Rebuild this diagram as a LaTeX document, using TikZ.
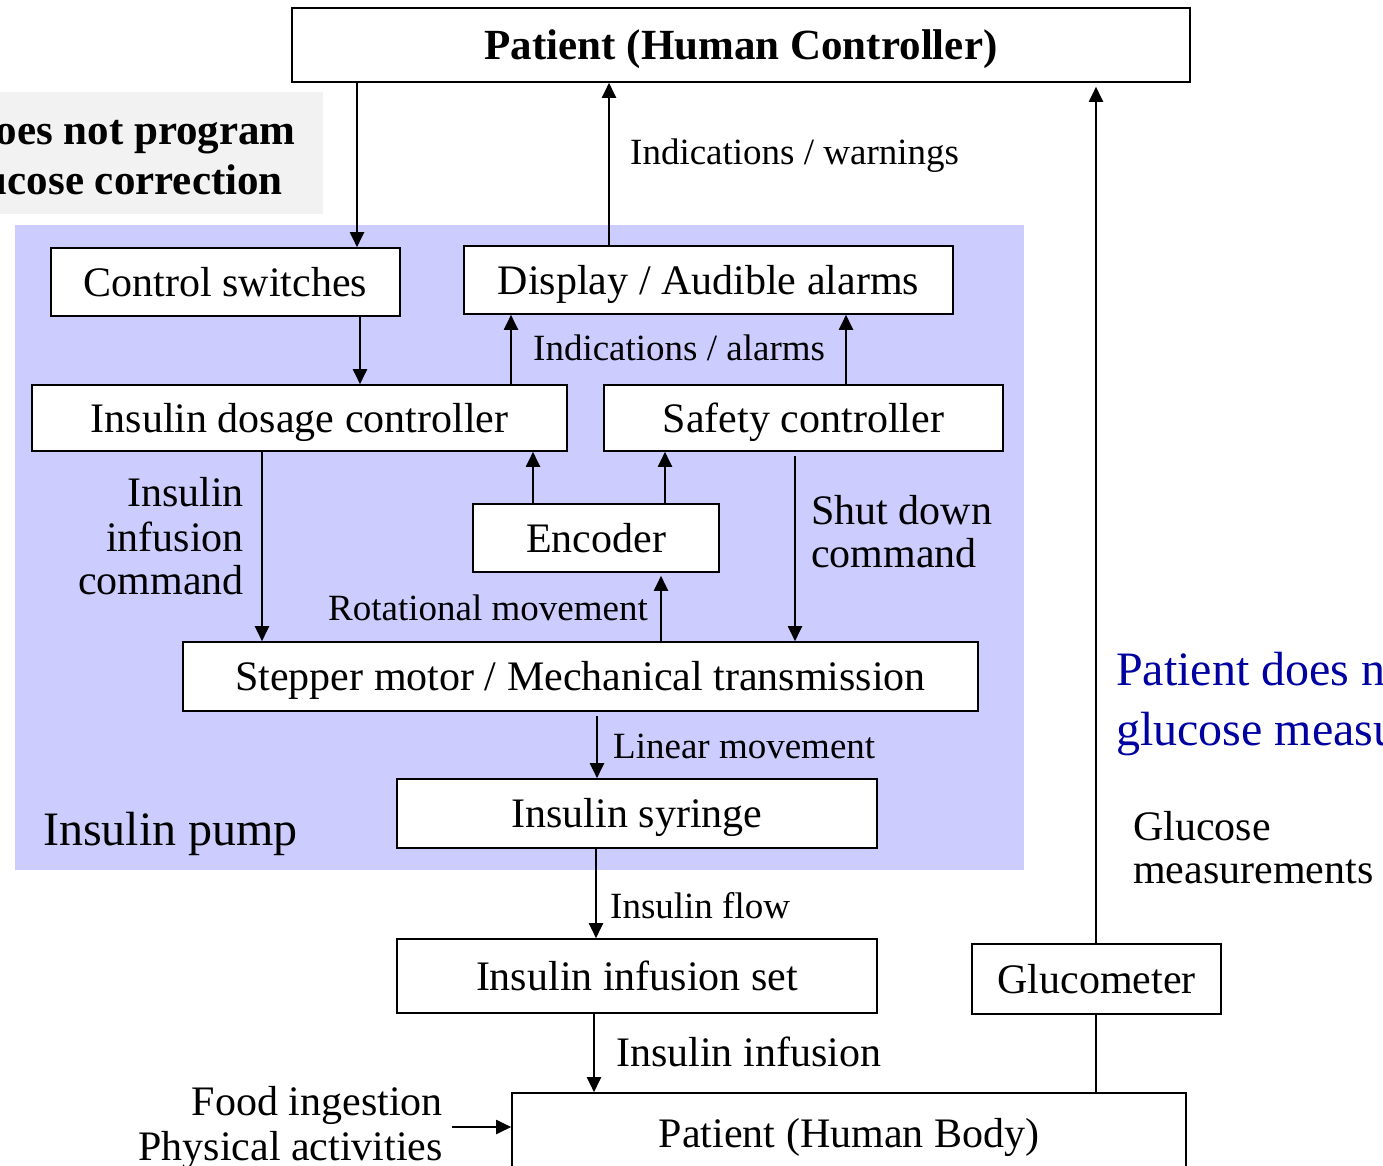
\documentclass[tikz,border=0pt]{standalone}
\usepackage{fontspec}
\setmainfont{Liberation Serif}
\usetikzlibrary{arrows.meta}
\definecolor{pumpblue}{RGB}{204,204,255}
\definecolor{notegray}{RGB}{242,242,242}
\definecolor{noteblue}{RGB}{0,0,160}

\begin{document}
\begin{tikzpicture}[x=1pt,y=-1pt,
  box/.style={draw, fill=white, line width=1.6pt, inner sep=0pt,
    text height=28pt, text depth=0pt, font=\fontsize{42}{46}\selectfont},
  lbl/.style={inner sep=0pt, text height=24.4pt, text depth=0pt,
    font=\fontsize{37}{40}\selectfont},
  big/.style={inner sep=0pt, text height=28pt, text depth=0pt,
    font=\fontsize{42}{46}\selectfont},
  bold/.style={inner sep=0pt, text height=28.4pt, text depth=0pt,
    font=\fontsize{43}{47}\selectfont\bfseries},
  huge/.style={inner sep=0pt, text height=31.7pt, text depth=0pt,
    font=\fontsize{48}{52}\selectfont},
  arr/.style={line width=2pt, -{Triangle[length=15pt,width=14pt]}},
  wire/.style={line width=2pt}]
\useasboundingbox (0,0) rectangle (1383,1166);
\clip (0,0) rectangle (1383,1166);

% background panels
\fill[notegray] (-10,92) rectangle (323,214);
\fill[pumpblue] (15,225) rectangle (1024,870);

% note in the grey panel
\node[bold, anchor=east] (n1) at (296,130) {does not program};
\node[bold, anchor=east] (n2) at (283,180) {glucose correction};

% blocks
\node[box, bold, draw, minimum width=898pt, minimum height=74pt] (pc) at (741,45) {Patient (Human Controller)};
\node[box, minimum width=349pt, minimum height=68pt] (cs) at (225.5,282) {Control switches};
\node[box, minimum width=489pt, minimum height=68pt] (disp) at (708.5,280) {Display / Audible alarms};
\node[box, minimum width=535pt, minimum height=66pt] (dc) at (299.5,418) {Insulin dosage controller};
\node[box, minimum width=399pt, minimum height=66pt] (sc) at (803.5,418) {Safety controller};
\node[box, minimum width=246pt, minimum height=68pt] (enc) at (596,538) {Encoder};
\node[box, minimum width=795pt, minimum height=69pt] (sm) at (580.5,676.5) {Stepper motor / Mechanical transmission};
\node[box, minimum width=480pt, minimum height=69pt] (syr) at (637,813.5) {Insulin syringe};
\node[box, minimum width=480pt, minimum height=74pt] (set) at (637,976) {Insulin infusion set};
\node[box, minimum width=249pt, minimum height=70pt] (glu) at (1096.5,979) {Glucometer};
\node[box, minimum width=674pt, minimum height=80pt] (body) at (849,1133) {Patient (Human Body)};
\coordinate (src) at (452,1127);

% connectors
\draw[arr] (357,0 |- pc.south) -- (357,0 |- cs.north);
\draw[arr] (609,0 |- disp.north) -- (609,0 |- pc.south);
\draw[arr] (360,0 |- cs.south) -- (360,0 |- dc.north);
\draw[arr] (511,0 |- dc.north) -- (511,0 |- disp.south);
\draw[arr] (846,0 |- sc.north) -- (846,0 |- disp.south);
\draw[arr] (533,0 |- enc.north) -- (533,0 |- dc.south);
\draw[arr] (665,0 |- enc.north) -- (665,0 |- sc.south);
\draw[arr] (262,0 |- dc.south) -- (262,0 |- sm.north);
\draw[arr, shorten <=4pt] (795,0 |- sc.south) -- (795,0 |- sm.north);
\draw[arr, shorten >=3pt] (661,0 |- sm.north) -- (661,0 |- enc.south);
\draw[arr, shorten <=4pt] (597,0 |- sm.south) -- (597,0 |- syr.north);
\draw[arr] (596,0 |- syr.south) -- (596,0 |- set.north);
\draw[arr] (594,0 |- set.south) -- (594,0 |- body.north);
\draw[arr, shorten >=4pt] (1096,0 |- glu.north) -- (1096,0 |- pc.south);
\draw[wire] (1096,0 |- body.north) -- (1096,0 |- glu.south);
\draw[arr] (src) -- (body.west |- src);

% connector labels
\node[lbl, anchor=west] (l1) at (630,152) {Indications / warnings};
\node[lbl, anchor=west] (l2) at (533,348) {Indications / alarms};
\node[big, anchor=east] (l3a) at (244,492) {Insulin};
\node[big, anchor=east] (l3b) at (244,537) {infusion};
\node[big, anchor=east] (l3c) at (244,580) {command};
\node[big, anchor=west] (l4a) at (811,510) {Shut down};
\node[big, anchor=west] (l4b) at (811,553) {command};
\node[lbl, anchor=east] (l5) at (648,608) {Rotational movement};
\node[lbl, anchor=west] (l6) at (613,746) {Linear movement};
\node[huge, anchor=west] (pump) at (43,830) {Insulin pump};
\node[huge, text=noteblue, anchor=west] (b1) at (1116,670) {Patient does not};
\node[huge, text=noteblue, anchor=west] (b2) at (1116,730) {glucose measurements};
\node[big, anchor=west] (l7a) at (1133,826) {Glucose};
\node[big, anchor=west] (l7b) at (1133,869) {measurements};
\node[lbl, anchor=west] (l8) at (610,906) {Insulin flow};
\node[big, anchor=west] (l9) at (616,1052) {Insulin infusion};
\node[big, anchor=east] (l10a) at (443,1101) {Food ingestion};
\node[big, anchor=east] (l10b) at (443,1146) {Physical activities};
\end{tikzpicture}
\end{document}
